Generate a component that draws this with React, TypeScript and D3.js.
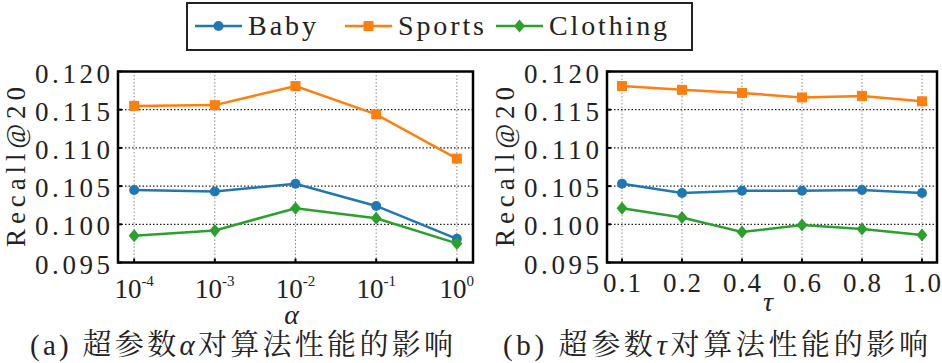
import React from 'react';
import * as d3 from 'd3';

const series = ['Baby', 'Sports', 'Clothing'];
const colors = ['#1f77b4', '#ff7f0e', '#2ca02c'];
const markers = ['circle', 'square', 'diamond'];

// (a) alpha
const alphaExp = ['-4', '-3', '-2', '-1', '0'];
const alphaBaby = [0.1045, 0.1043, 0.1053, 0.1024, 0.0981];
const alphaSports = [0.1155, 0.1156, 0.1181, 0.1144, 0.1086];
const alphaClothing = [0.0985, 0.0992, 0.1021, 0.1008, 0.0975];

// (b) tau
const tauLabels = ['0.1', '0.2', '0.4', '0.6', '0.8', '1.0'];
const tauBaby = [0.1053, 0.1041, 0.1044, 0.1044, 0.1045, 0.1041];
const tauSports = [0.1181, 0.1176, 0.1172, 0.1166, 0.1168, 0.1161];
const tauClothing = [0.1021, 0.1009, 0.0990, 0.0999, 0.0994, 0.0986];

const yTicks = [0.095, 0.1, 0.105, 0.11, 0.115, 0.12];

const INK = '#222';
const SERIF = { fontFamily: '"Liberation Serif"' };

const Marker = ({ kind, x, y, color }) => {
  if (kind === 'circle') return <circle cx={x} cy={y} r={5} fill={color} />;
  if (kind === 'square') return <rect x={x - 5} y={y - 5} width={10} height={10} fill={color} />;
  return <path d={`M${x},${y - 6.5}L${x + 5.5},${y}L${x},${y + 6.5}L${x - 5.5},${y}Z`} fill={color} />;
};

const top = 71.5, bottom = 262.5;
const y = d3.scaleLinear().domain([0.095, 0.12]).range([bottom, top]);

const Panel = ({ left, right, pad, cats, data, xName, xNameY, labelX, caption, capX, capW, power }) => {
  const x = d3.scalePoint().domain(cats).range([left, right]).padding(pad);
  const line = d3.line().x((d, i) => x(cats[i])).y(d => y(d));
  return (
    <g>
      {yTicks.slice(1, -1).map(t => (
        <line key={'h' + t} x1={left} x2={right} y1={y(t)} y2={y(t)} stroke="#222" strokeWidth={1.2} strokeDasharray="1.5,2" />
      ))}
      {cats.map(c => (
        <line key={'v' + c} x1={x(c)} x2={x(c)} y1={top} y2={bottom} stroke="#888" strokeWidth={1} strokeDasharray="1.5,2" />
      ))}
      {cats.map(c => (
        <line key={'t' + c} x1={x(c)} x2={x(c)} y1={bottom} y2={bottom - 4} stroke="#000" strokeWidth={2} />
      ))}
      {yTicks.map(t => (
        <line key={'yt' + t} x1={left} x2={left + 4} y1={y(t)} y2={y(t)} stroke="#000" strokeWidth={2} />
      ))}
      {data.map((vals, si) => (
        <g key={series[si]}>
          <path d={line(vals)} fill="none" stroke={colors[si]} strokeWidth={2.5} />
          {vals.map((v, i) => (
            <Marker key={i} kind={markers[si]} x={x(cats[i])} y={y(v)} color={colors[si]} />
          ))}
        </g>
      ))}
      <rect x={left} y={top} width={right - left} height={bottom - top} fill="none" stroke="#000" strokeWidth={2.5} />
      {yTicks.map(t => (
        <text key={'yl' + t} x={left - 83} y={y(t) + 11} fontSize={27} style={SERIF} fill={INK}
          textLength={75} lengthAdjust="spacing">
          {d3.format('.3f')(t)}
        </text>
      ))}
      {cats.map(c => (
        power ? (
          <text key={'xl' + c} x={x(c)} y={298} textAnchor="middle" fontSize={27} style={SERIF} fill={INK}>
            <tspan>10</tspan>
            <tspan fontSize={15} dy={-12}>{c}</tspan>
          </text>
        ) : (
          <text key={'xl' + c} x={x(c) - 19} y={292} fontSize={27} style={SERIF} fill={INK}
            textLength={38} lengthAdjust="spacing">{c}</text>
        )
      ))}
      <text x={(left + right) / 2 - 4} y={xNameY} textAnchor="middle" fontStyle="italic" fontSize={28}
        style={SERIF} fill={INK}>{xName}</text>
      <text transform={`translate(${labelX + 9},${(top + bottom) / 2 + 80}) rotate(-90)`}
        fontSize={27} style={SERIF} fill={INK} textLength={160} lengthAdjust="spacing">
        Recall@20
      </text>
      <text x={capX} y={355} fontSize={29} fill={INK} textLength={capW} lengthAdjust="spacing"
        style={{ fontFamily: '"Liberation Serif", "Noto Serif CJK SC"' }}>
        <tspan>{caption[0]}</tspan>
        <tspan fontStyle="italic">{caption[1]}</tspan>
        <tspan>{caption[2]}</tspan>
      </text>
    </g>
  );
};

const legX = [195, 345, 496];
const legW = [68, 86, 118];

const App = () => (
  <div style={{ position: 'absolute', left: 0, top: 0 }}>
    <svg width={942} height={363} style={{ display: 'block', background: '#fff' }}>
      <Panel left={118} right={473} pad={0.2} cats={alphaExp}
        data={[alphaBaby, alphaSports, alphaClothing]} xName="α" xNameY={324} labelX={16}
        caption={['(a) 超参数', 'α', '对算法性能的影响']} capX={30} capW={423} power />
      <Panel left={607} right={937} pad={0.25} cats={tauLabels}
        data={[tauBaby, tauSports, tauClothing]} xName="τ" xNameY={311} labelX={505}
        caption={['(b) 超参数', 'τ', '对算法性能的影响']} capX={503} capW={425} power={false} />
      <g>
        <rect x={187} y={3} width={505} height={47} fill="#fff" stroke="#222" strokeWidth={2} />
        {series.map((s, i) => (
          <g key={s}>
            <line x1={legX[i]} x2={legX[i] + 47} y1={26} y2={26} stroke={colors[i]} strokeWidth={2.5} />
            <Marker kind={markers[i]} x={legX[i] + 23.5} y={26} color={colors[i]} />
            <text x={legX[i] + 53} y={35} fontSize={28} fill={INK} style={SERIF}
              textLength={legW[i]} lengthAdjust="spacing">{s}</text>
          </g>
        ))}
      </g>
    </svg>
  </div>
);

export default App;
